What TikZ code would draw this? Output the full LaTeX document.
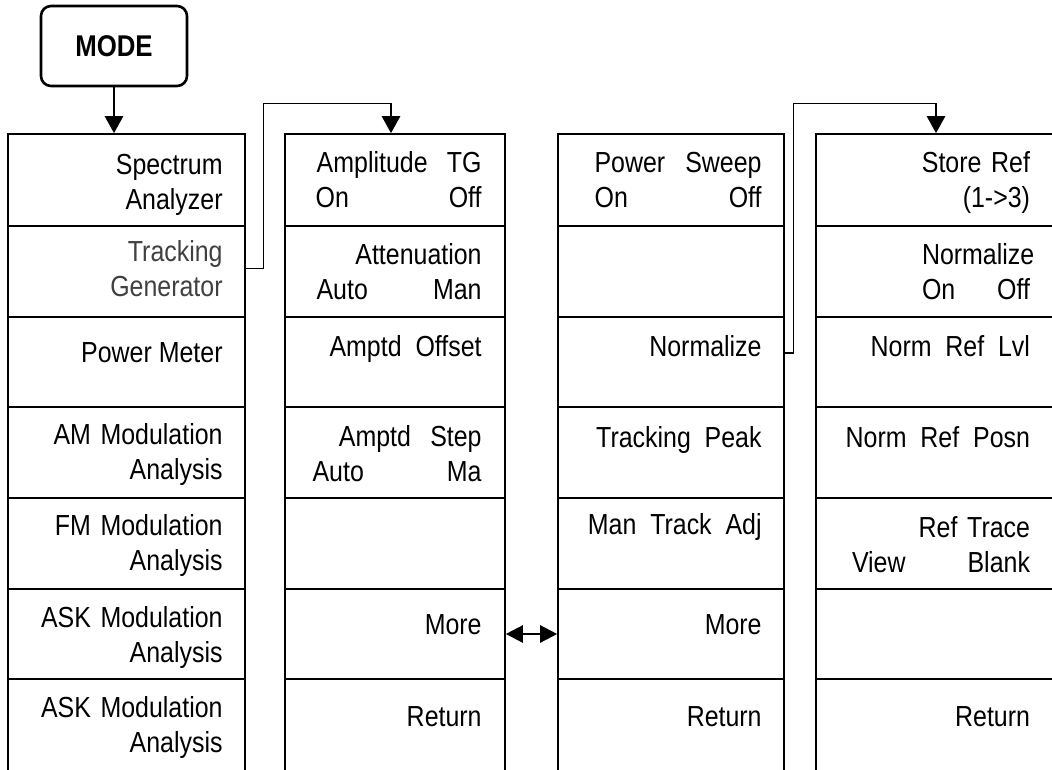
\documentclass[tikz,border=0pt]{standalone}
\usepackage{fontspec}
\setmainfont[FakeStretch=0.86]{Liberation Sans}
\usepackage{tikz}
\usetikzlibrary{arrows.meta, calc}
\definecolor{menugray}{RGB}{64, 64, 64}

\begin{document}
\begin{tikzpicture}[
    x=1pt, y=-1pt,
    cell/.style={rectangle, draw, line width=1.6pt, inner sep=0pt},
    lbl/.style={inner sep=0pt, align=right, anchor=base east,
                font=\fontsize{29}{35}\selectfont},
    twoline/.style={lbl, text width=#1},
    twoline/.default=200pt,
    keybox/.style={rectangle, draw, line width=2.6pt, rounded corners=10pt,
                   minimum width=146pt, minimum height=80pt,
                   font=\fontsize{30}{35}\selectfont\bfseries},
    link/.style={line width=1.3pt},
    arr/.style={-{Triangle[length=17pt, width=18pt]}, line width=2.6pt},
    dblarr/.style={{Triangle[length=17pt, width=17pt]}-{Triangle[length=17pt, width=17pt]}, line width=2.4pt},
]
\useasboundingbox (0,0) rectangle (1052,770);

% hard key
\node[keybox] (mode) at (114,46) {MODE};

% softkey columns
\foreach \c/\xl/\xr in {1/8/245, 2/285/505, 3/558/784, 4/816/1060}{
  \foreach \r/\yt/\yb in {1/134/226, 2/226/317, 3/317/407, 4/407/498,
                          5/498/589, 6/589/679, 7/679/772}{
    \node[cell, minimum width={(\xr-\xl)*1pt}, minimum height={(\yb-\yt)*1pt}]
      (c\c r\r) at ({(\xl+\xr)/2},{(\yt+\yb)/2}) {};
  }
}

% column 1
\node[twoline] (l11) at ($(c1r1.north east)+(-23,41)$) {Spectrum\\Analyzer};
\node[twoline, text=menugray] (l12) at ($(c1r2.north east)+(-23,36)$) {Tracking\\Generator};
\node[lbl] (l13) at ($(c1r3.north east)+(-23,46)$) {Power Meter};
\node[twoline] (l14) at ($(c1r4.north east)+(-23,38)$) {AM Modulation\\Analysis};
\node[twoline] (l15) at ($(c1r5.north east)+(-23,38)$) {FM Modulation\\Analysis};
\node[twoline] (l16) at ($(c1r6.north east)+(-23,39)$) {ASK Modulation\\Analysis};
\node[twoline] (l17) at ($(c1r7.north east)+(-23,39)$) {ASK Modulation\\Analysis};

% column 2
\node[twoline=166pt] (l21) at ($(c2r1.north east)+(-24,39)$) {Amplitude\ \ TG\\On\hfill Off};
\node[twoline=165pt] (l22) at ($(c2r2.north east)+(-24,39)$) {Attenuation\\Auto\hfill Man};
\node[lbl] (l23) at ($(c2r3.north east)+(-24,40)$) {Amptd\ \ Offset};
\node[twoline=169pt] (l24) at ($(c2r4.north east)+(-24,40)$) {Amptd\ \ Step\\Auto\hfill Ma};
\node[lbl] (l26) at ($(c2r6.north east)+(-24,46)$) {More};
\node[lbl] (l27) at ($(c2r7.north east)+(-24,48)$) {Return};

% column 3
\node[twoline=167pt] (l31) at ($(c3r1.north east)+(-23,39)$) {Power\hfill Sweep\\On\hfill Off};
\node[lbl] (l33) at ($(c3r3.north east)+(-23,40)$) {Normalize};
\node[lbl] (l34) at ($(c3r4.north east)+(-23,41)$) {Tracking\ \ Peak};
\node[lbl] (l35) at ($(c3r5.north east)+(-23,37)$) {Man\ \ Track\ \ Adj};
\node[lbl] (l36) at ($(c3r6.north east)+(-23,46)$) {More};
\node[lbl] (l37) at ($(c3r7.north east)+(-23,48)$) {Return};

% column 4
\node[twoline=150pt] (l41) at ($(c4r1.north west)+(215,39)$) {Store\ Ref\\(1->3)};
\node[twoline=108pt] (l42) at ($(c4r2.north west)+(215,39)$) {Normalize\\On\hfill Off};
\node[lbl] (l43) at ($(c4r3.north west)+(215,40)$) {Norm\ \ Ref\ \ Lvl};
\node[lbl] (l44) at ($(c4r4.north west)+(215,41)$) {Norm\ \ Ref\ \ Posn};
\node[twoline=178pt] (l45) at ($(c4r5.north west)+(215,40)$) {Ref\ Trace\\View\hfill Blank};
\node[lbl] (l47) at ($(c4r7.north west)+(215,48)$) {Return};

% connectors
\coordinate (tgtop) at ($(c2r1.north)+(-4,-30)$);
\coordinate (nrtop) at ($(c4r1.north)+(-2,-30)$);
\draw[arr] (mode.south) -- (mode.south |- c1r1.north);
\draw[link] ($(c1r2.east)+(0,-3)$) -- ++(18,0) |- (tgtop);
\draw[arr] (tgtop) -- (tgtop |- c2r1.north);
\draw[link] ($(c3r3.east)+(0,-9)$) -- ++(9,0) |- (nrtop);
\draw[arr] (nrtop) -- (nrtop |- c4r1.north);
\draw[dblarr] (c2r6.east) -- (c3r6.west);

\end{tikzpicture}
\end{document}
